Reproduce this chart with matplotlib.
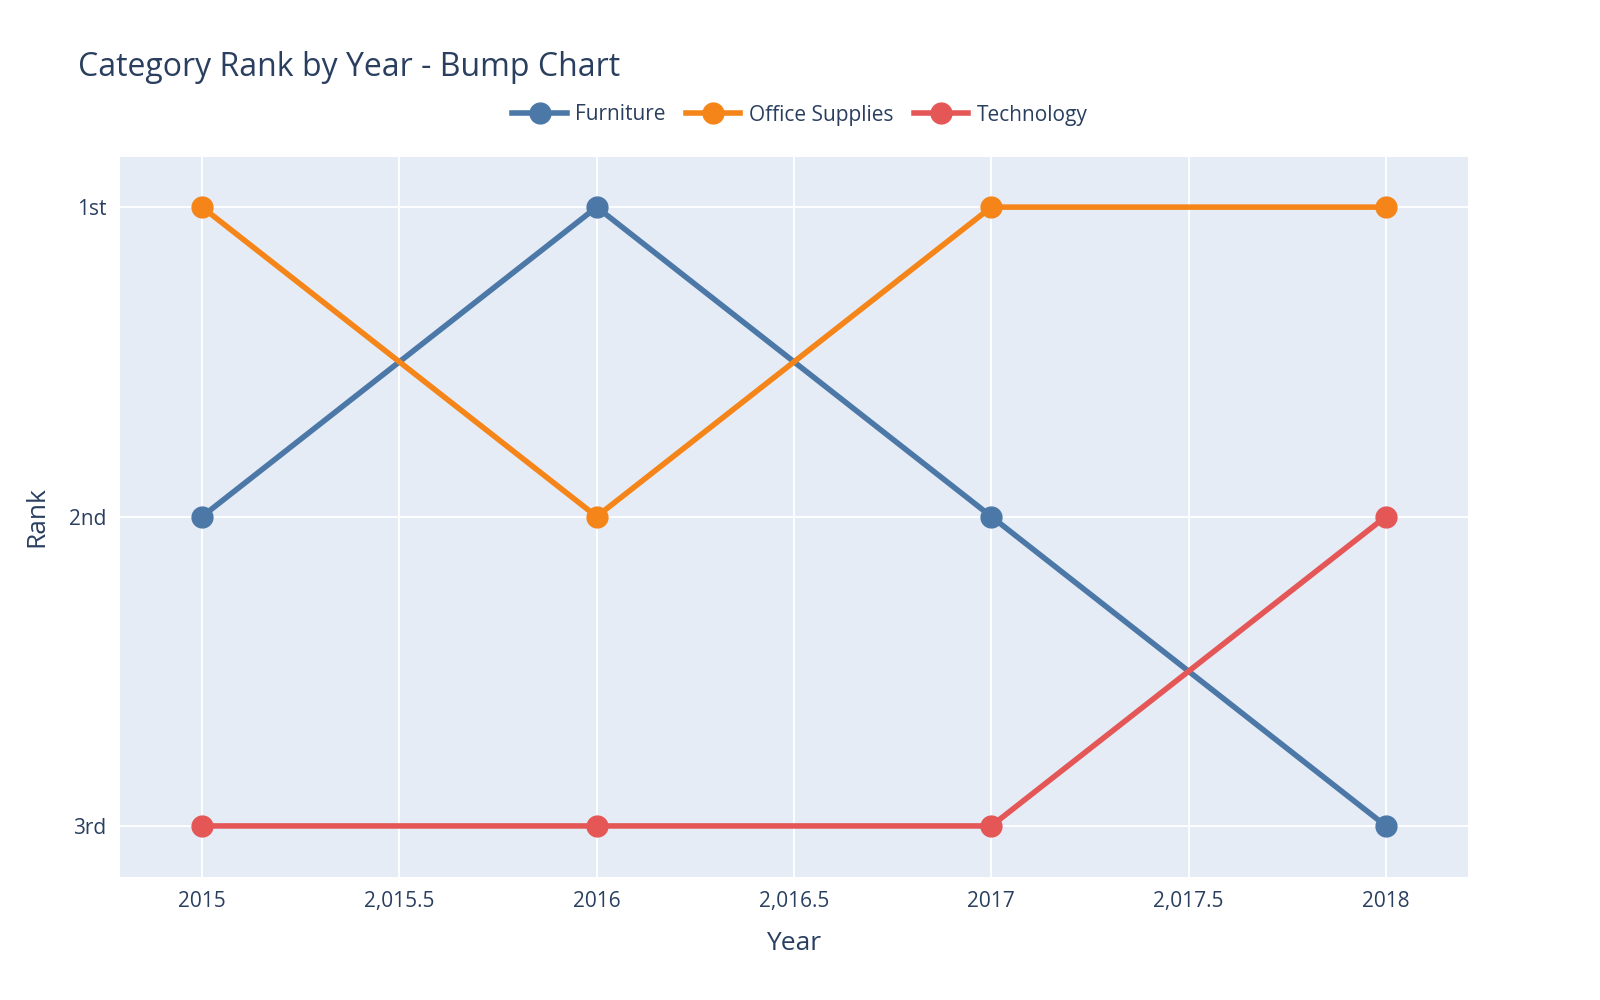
import matplotlib
matplotlib.use("Agg")
import matplotlib.pyplot as plt
from matplotlib.ticker import FuncFormatter

years = [2015, 2016, 2017, 2018]
furniture = [2, 1, 2, 3]
office_supplies = [1, 2, 1, 1]
technology = [3, 3, 3, 2]
series_names = ["Furniture", "Office Supplies", "Technology"]
rank_labels = ["1st", "2nd", "3rd"]
colors = ["#4C78A8", "#F58518", "#E45756"]

plt.rcParams["font.family"] = "Open Sans"
fig = plt.figure(figsize=(16, 10), dpi=100)
ax = fig.add_axes([0.075, 0.123, 0.8425, 0.720])
ax.set_facecolor("#E5ECF6")
for s in ax.spines.values():
    s.set_visible(False)

for name, vals, c in zip(series_names, [furniture, office_supplies, technology], colors):
    ax.plot(years, vals, color=c, lw=4, marker="o", ms=15, label=name, zorder=3)

ax.set_xlim(2014.792, 2018.208)
ax.set_ylim(3.165, 0.838)
ax.set_xticks([2015, 2015.5, 2016, 2016.5, 2017, 2017.5, 2018])
ax.xaxis.set_major_formatter(FuncFormatter(lambda v, p: f"{v:.0f}" if abs(v - round(v)) < 1e-9 else f"{v:,.1f}"))
ax.set_yticks([1, 2, 3])
ax.set_yticklabels(rank_labels)
ax.grid(color="white", lw=1.3, zorder=0)
ax.set_axisbelow(True)
ax.tick_params(length=0, labelsize=15, colors="#2a3f5f", pad=10)
ax.set_xlabel("Year", fontsize=19, color="#2a3f5f", labelpad=14)
ax.set_ylabel("Rank", fontsize=19, color="#2a3f5f", labelpad=14)

fig.text(0.049, 0.932, "Category Rank by Year - Bump Chart", fontsize=23, color="#2a3f5f", va="center")
fig.legend(loc="center", bbox_to_anchor=(0.5, 0.885), ncol=3, frameon=False, fontsize=15,
           labelcolor="#2a3f5f", handlelength=2.6, columnspacing=1.0, handletextpad=0.4)
fig.savefig("out.png")
